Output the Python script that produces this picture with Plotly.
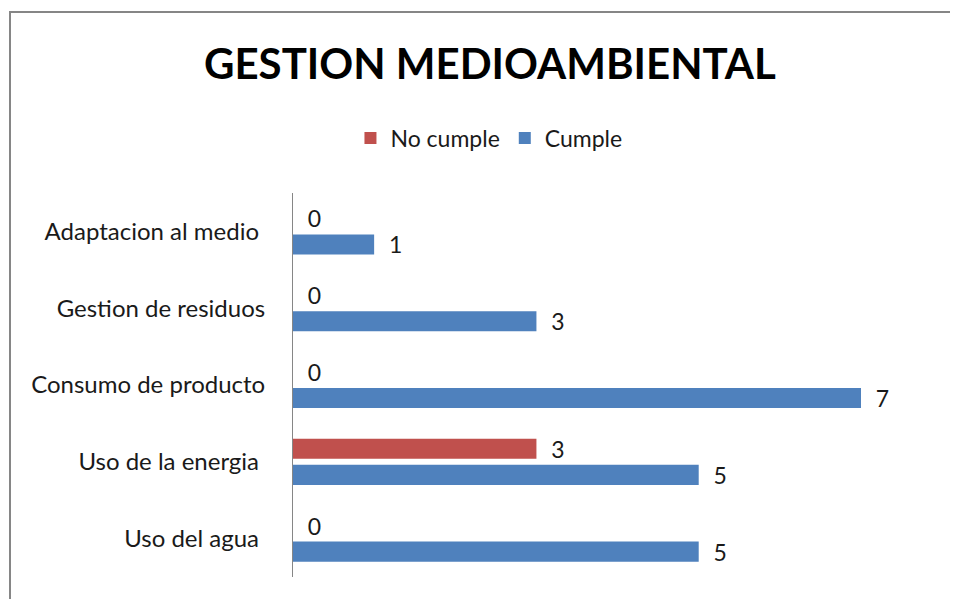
import plotly.graph_objects as go

# orden de abajo hacia arriba (como lo dibuja el eje de categorias)
categorias = [
    "Uso del agua",
    "Uso de la energia",
    "Consumo de producto",
    "Gestion de residuos",
    "Adaptacion al medio",
]
no_cumple = [0, 3, 0, 0, 0]
cumple = [5, 5, 7, 3, 1]

# algunas etiquetas del original llevan un espacio al final
etiquetas = [
    "Uso del agua\u00a0",
    "Uso de la energia\u00a0",
    "Consumo de producto",
    "Gestion de residuos",
    "Adaptacion al medio\u00a0",
]

ROJO = "#C0504D"
AZUL = "#4F81BD"
FONT = "Lato, Open Sans, sans-serif"
TXT = "#1a1a1a"
PAD = "\u00a0\u00a0"

fig = go.Figure()
# Cumple va primero para que quede debajo dentro del grupo
fig.add_trace(go.Bar(
    y=categorias, x=cumple, name="Cumple", orientation="h",
    marker=dict(color=AZUL, line=dict(width=0)),
    texttemplate=PAD + "%{x}", textposition="outside", constraintext="none",
    textfont=dict(size=23, color=TXT, family=FONT),
    cliponaxis=False, legendrank=2,
))
fig.add_trace(go.Bar(
    y=categorias, x=no_cumple, name="No cumple", orientation="h",
    marker=dict(color=ROJO, line=dict(width=0)),
    texttemplate=PAD + "%{x}", textposition="outside", constraintext="none",
    textfont=dict(size=23, color=TXT, family=FONT),
    cliponaxis=False, legendrank=1,
))

# la pagina tiene 8px de margen en body: se compensa en los margenes
fig.update_layout(
    width=958, height=599,
    barmode="group", bargap=0.32, bargroupgap=0.23,
    paper_bgcolor="white", plot_bgcolor="white",
    font=dict(family=FONT, size=23, color=TXT),
    title=dict(
        text="<b>GESTION MEDIOAMBIENTAL</b>",
        x=0.503, xanchor="center", y=0.906, yanchor="middle",
        font=dict(size=42, color="black", family=FONT),
    ),
    legend=dict(
        orientation="h", x=0.345, xanchor="center", y=1.143, yanchor="middle",
        font=dict(size=23, color=TXT), itemwidth=30, tracegroupgap=0,
    ),
    margin=dict(l=285, r=105, t=185, b=30),
    showlegend=True,
    xaxis=dict(range=[0, 7], visible=False, showgrid=False, zeroline=False),
    yaxis=dict(
        categoryorder="array", categoryarray=categorias,
        tickmode="array", tickvals=categorias, ticktext=etiquetas,
        showline=True, linecolor="#868686", linewidth=1,
        showgrid=False, ticks="", ticklabelstandoff=22,
        tickfont=dict(size=24, color=TXT),
    ),
)

# marco gris del area del grafico
fig.add_shape(
    type="rect", xref="paper", yref="paper",
    x0=-283 / 568, x1=1000 / 568, y0=-0.2, y1=1 + 181 / 384,
    line=dict(color="#868686", width=2), fillcolor="rgba(0,0,0,0)",
    layer="below",
)

fig.write_html("out.html")
